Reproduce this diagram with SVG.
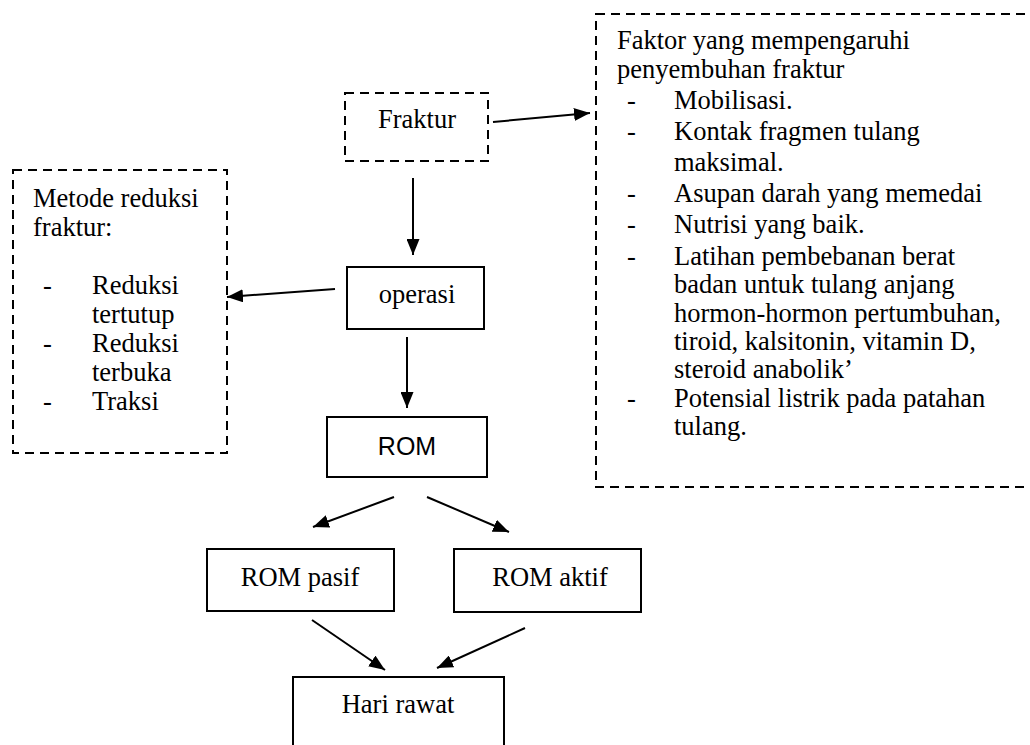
<svg xmlns="http://www.w3.org/2000/svg" width="1030" height="745" viewBox="0 0 1030 745">
<style>
.box{fill:#fff;stroke:#000;stroke-width:2}
.dash{fill:none;stroke:#000;stroke-width:2;stroke-dasharray:9 6}
.t{font-family:"Liberation Serif","Times New Roman",serif;font-size:26.5px;fill:#000}
.s{font-family:"Liberation Sans",Arial,sans-serif;font-size:25px;fill:#000}
.c{text-anchor:middle}
.ln{stroke:#000;stroke-width:2;fill:none;marker-end:url(#ah)}
</style>
<defs>
<marker id="ah" markerUnits="userSpaceOnUse" markerWidth="17" markerHeight="13" refX="16" refY="6.5" orient="auto">
<path d="M0,0 L16,6.5 L0,13 z" fill="#000"/>
</marker>
</defs>
<rect width="1030" height="745" fill="#fff"/>

<g id="connectors">
<line class="ln" x1="493" y1="122" x2="590" y2="113"/>
<line class="ln" x1="413" y1="178" x2="413" y2="255"/>
<line class="ln" x1="335" y1="289" x2="227" y2="297"/>
<line class="ln" x1="407" y1="337" x2="407" y2="408"/>
<line class="ln" x1="394" y1="497" x2="313" y2="527"/>
<line class="ln" x1="427" y1="497" x2="509" y2="532"/>
<line class="ln" x1="312" y1="620" x2="385" y2="670"/>
<line class="ln" x1="525" y1="628" x2="437" y2="668"/>
</g>

<g id="fraktur">
<rect class="dash" x="345" y="93" width="143" height="68"/>
<text class="t c" x="417" y="128">Fraktur</text>
</g>

<g id="faktor">
<rect class="dash" x="596" y="14" width="450" height="473"/>
<text class="t" x="617" y="49">Faktor yang mempengaruhi</text>
<text class="t" x="617" y="78">penyembuhan fraktur</text>
<text class="t" x="627" y="109">-</text><text class="t" x="674" y="109">Mobilisasi.</text>
<text class="t" x="627" y="140">-</text><text class="t" x="674" y="140">Kontak fragmen tulang</text>
<text class="t" x="674" y="171">maksimal.</text>
<text class="t" x="627" y="202">-</text><text class="t" x="674" y="202">Asupan darah yang memedai</text>
<text class="t" x="627" y="233">-</text><text class="t" x="674" y="233">Nutrisi yang baik.</text>
<text class="t" x="627" y="265">-</text><text class="t" x="674" y="265">Latihan pembebanan berat</text>
<text class="t" x="674" y="293">badan untuk tulang anjang</text>
<text class="t" x="674" y="322">hormon-hormon pertumbuhan,</text>
<text class="t" x="674" y="350">tiroid, kalsitonin, vitamin D,</text>
<text class="t" x="674" y="378">steroid anabolik’</text>
<text class="t" x="627" y="407">-</text><text class="t" x="674" y="407">Potensial listrik pada patahan</text>
<text class="t" x="674" y="435">tulang.</text>
</g>

<g id="metode">
<rect class="dash" x="13" y="170" width="214" height="283"/>
<text class="t" x="33" y="207">Metode reduksi</text>
<text class="t" x="33" y="236">fraktur:</text>
<text class="t" x="43" y="294">-</text><text class="t" x="92" y="294">Reduksi</text>
<text class="t" x="92" y="323">tertutup</text>
<text class="t" x="43" y="352">-</text><text class="t" x="92" y="352">Reduksi</text>
<text class="t" x="92" y="381">terbuka</text>
<text class="t" x="43" y="410">-</text><text class="t" x="92" y="410">Traksi</text>
</g>

<g id="operasi">
<rect class="box" x="347" y="267" width="137" height="62"/>
<text class="t c" x="417" y="303">operasi</text>
</g>

<g id="rom">
<rect class="box" x="327" y="417" width="160" height="60"/>
<text class="s c" x="407" y="455">ROM</text>
</g>

<g id="rom-pasif">
<rect class="box" x="207" y="549" width="187" height="62"/>
<text class="t c" x="300" y="586">ROM pasif</text>
</g>

<g id="rom-aktif">
<rect class="box" x="454" y="549" width="187" height="63"/>
<text class="t c" x="550" y="586">ROM aktif</text>
</g>

<g id="hari-rawat">
<rect class="box" x="293" y="677" width="211" height="80"/>
<text class="t c" x="398" y="713">Hari rawat</text>
</g>
</svg>
